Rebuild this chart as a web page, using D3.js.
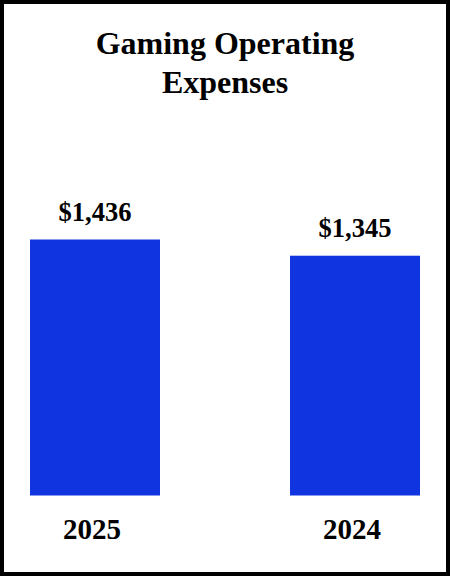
<!DOCTYPE html>
<html>
<head>
<meta charset="utf-8">
<script src="https://cdn.jsdelivr.net/npm/d3@7"></script>
<style>
html,body{margin:0;padding:0;background:#fff;}
svg{display:block;}
text{font-family:"Liberation Serif","Times New Roman",serif;font-weight:bold;fill:#000;}
</style>
</head>
<body>
<svg id="chart" width="450" height="576"></svg>
<script>
const titleLines = ["Gaming Operating", "Expenses"];
const categories = ["2025", "2024"];
const values = [1436, 1345];
const valueLabels = ["$1,436", "$1,345"];

const svg = d3.select("#chart");
const W = 450, H = 576;

svg.append("rect").attr("x", 0).attr("y", 0).attr("width", W).attr("height", H).attr("fill", "#fff");
svg.append("rect").attr("x", 2).attr("y", 2).attr("width", W - 4).attr("height", H - 4)
  .attr("fill", "none").attr("stroke", "#000").attr("stroke-width", 4);

const x = d3.scaleBand().domain(categories).range([30, 420]).paddingInner(0.5).paddingOuter(0);
const y = d3.scaleLinear().domain([0, d3.max(values)]).range([495.5, 239.5]);

svg.append("g").selectAll("text").data(titleLines).join("text")
  .attr("x", 225).attr("y", (d, i) => 54 + i * 39)
  .attr("text-anchor", "middle").attr("font-size", 32).text(d => d);

const data = categories.map((c, i) => ({c, v: values[i], l: valueLabels[i]}));

svg.append("g").selectAll("rect").data(data).join("rect")
  .attr("x", d => x(d.c)).attr("width", x.bandwidth())
  .attr("y", d => y(d.v)).attr("height", d => y(0) - y(d.v))
  .attr("fill", "#1034df");

svg.append("g").selectAll("text").data(data).join("text")
  .attr("x", d => x(d.c) + x.bandwidth() / 2).attr("y", d => y(d.v) - 18.5)
  .attr("text-anchor", "middle").attr("font-size", 26.5).text(d => d.l);

svg.append("g").selectAll("text").data(data).join("text")
  .attr("x", d => x(d.c) + x.bandwidth() / 2 - 3).attr("y", 539)
  .attr("text-anchor", "middle").attr("font-size", 29).text(d => d.c);
</script>
</body>
</html>
